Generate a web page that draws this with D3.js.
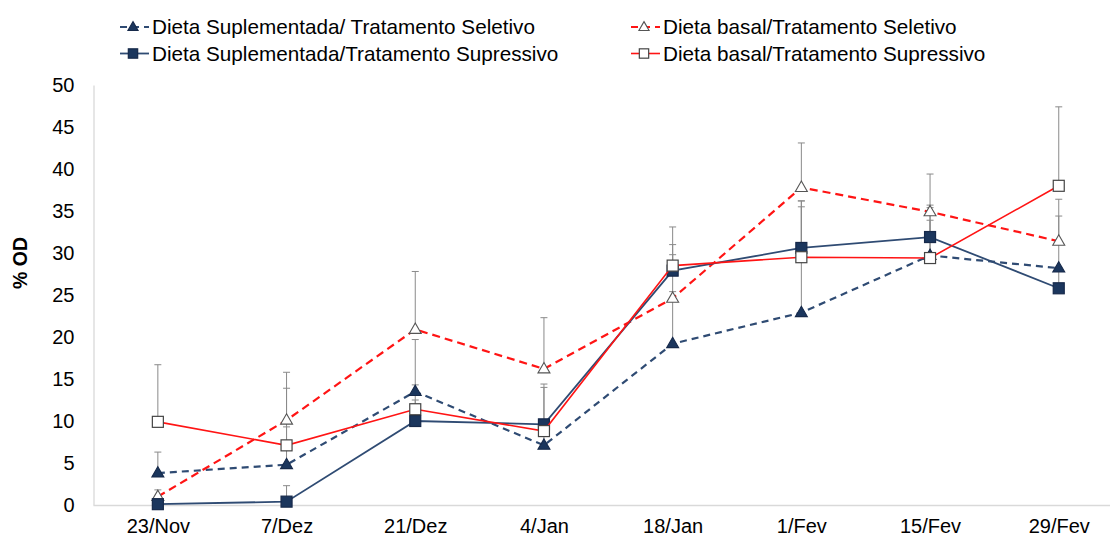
<!DOCTYPE html>
<html>
<head>
<meta charset="utf-8">
<script src="https://cdn.jsdelivr.net/npm/d3@7"></script>
<style>
  html, body { margin: 0; padding: 0; background: #fff; }
  svg { display: block; font-family: "Liberation Sans", Arial, sans-serif; }
</style>
</head>
<body>
<svg id="chart" width="1110" height="541"></svg>
<script>
// Sampling dates (x categories)
const dates = ["23/Nov", "7/Dez", "21/Dez", "4/Jan", "18/Jan", "1/Fev", "15/Fev", "29/Fev"];
const yTicks = [0, 5, 10, 15, 20, 25, 30, 35, 40, 45, 50];

// % OD per treatment, with upper error (plus) values
const suplSeletivo      = [3.8, 4.8, 13.5, 7.1, 19.2, 22.9, 29.7, 28.2];
const suplSeletivoErr   = [2.5, 4.5, 6.2, 2.0, 6.2, 13.3, 5.7, 6.2];
const basalSeletivo     = [1.0, 10.1, 20.9, 16.2, 24.6, 37.8, 34.9, 31.4];
const basalSeletivoErr  = [0.8, 5.7, 6.9, 6.1, 5.2, 5.3, 4.5, 5.0];
const suplSupressivo    = [0.1, 0.4, 10.0, 9.6, 27.9, 30.6, 31.9, 25.8];
const suplSupressivoErr = [0.4, 1.9, 2.5, 4.8, 3.1, 5.6, 3.8, 2.5];
const basalSupressivo   = [9.9, 7.1, 11.4, 8.8, 28.5, 29.5, 29.4, 38.0];
const basalSupressivoErr= [6.8, 6.8, 2.9, 5.2, 4.6, 6.0, 4.5, 9.4];

const NAVY_LINE = "#2F4B73";
const NAVY_FILL = "#1B365D";
const RED = "#FF1414";

const series = [
  { name: "Dieta Suplementada/ Tratamento Seletivo", values: suplSeletivo, err: suplSeletivoErr,
    color: NAVY_LINE, dash: "7,5", shape: "tri", fill: NAVY_FILL, mstroke: "#16294a", lw: 2.2 },
  { name: "Dieta basal/Tratamento Seletivo", values: basalSeletivo, err: basalSeletivoErr,
    color: RED, dash: "8,5", shape: "tri", fill: "#ffffff", mstroke: "#555555", lw: 2.2 },
  { name: "Dieta Suplementada/Tratamento Supressivo", values: suplSupressivo, err: suplSupressivoErr,
    color: NAVY_LINE, dash: null, shape: "sq", fill: NAVY_FILL, mstroke: "#16294a", lw: 1.8 },
  { name: "Dieta basal/Tratamento Supressivo", values: basalSupressivo, err: basalSupressivoErr,
    color: RED, dash: null, shape: "sq", fill: "#ffffff", mstroke: "#444444", lw: 1.6 }
];

const svg = d3.select("#chart");
const left = 93.5, band = 128.7;

const x = d3.scalePoint().domain(dates).range([left, left + band * 8]).padding(0.5);
const y = d3.scaleLinear().domain([0, 50]).range([505, 85]);

// Axes: light grey spines, no tick marks
const axisColor = "#D9D9D9";
const yAxis = svg.append("g").attr("transform", `translate(${left},0)`)
  .call(d3.axisLeft(y).tickValues(yTicks).tickSize(0).tickPadding(19));
yAxis.select(".domain").attr("stroke", axisColor).attr("stroke-width", 1.3);
yAxis.selectAll("text").attr("font-size", 20).attr("fill", "#000")
  .attr("font-family", "Liberation Sans, Arial, sans-serif");

const xAxis = svg.append("g").attr("transform", `translate(0,${y(0)})`)
  .call(d3.axisBottom(x).tickSize(0).tickPadding(14));
xAxis.select(".domain").attr("stroke", axisColor).attr("stroke-width", 1.6)
  .attr("d", `M${left},0.5H${left + band * 8}`);
xAxis.selectAll("text").attr("font-size", 20).attr("fill", "#000")
  .attr("font-family", "Liberation Sans, Arial, sans-serif");

// Y axis title
svg.append("text")
  .attr("transform", `translate(26.5,263) rotate(-90)`)
  .attr("text-anchor", "middle")
  .attr("font-size", 19.5).attr("font-weight", "bold").attr("fill", "#000")
  .text("% OD");

// Error bars (plus direction only)
const capW = 3.5;
const eb = svg.append("g").attr("stroke", "#8a8a8a").attr("stroke-width", 1).attr("fill", "none");
series.forEach(s => {
  s.values.forEach((v, i) => {
    const cx = x(dates[i]);
    const top = y(v + s.err[i]);
    eb.append("line").attr("x1", cx).attr("x2", cx).attr("y1", y(v)).attr("y2", top);
    eb.append("line").attr("x1", cx - capW).attr("x2", cx + capW).attr("y1", top).attr("y2", top);
  });
});

// Marker drawing helper
function marker(g, shape, cx, cy, fill, stroke, scale = 1) {
  if (shape === "sq") {
    const h = 5.5 * scale;
    g.append("rect").attr("x", cx - h).attr("y", cy - h).attr("width", 2 * h).attr("height", 2 * h)
      .attr("fill", fill).attr("stroke", stroke).attr("stroke-width", 1.2);
  } else {
    const sym = d3.symbol().type(d3.symbolTriangle).size(62 * scale * scale);
    g.append("path").attr("d", sym()).attr("transform", `translate(${cx},${cy + 0.5})`)
      .attr("fill", fill).attr("stroke", stroke).attr("stroke-width", 1.1);
  }
}

const line = d3.line().x((d, i) => x(dates[i])).y(d => y(d));

series.forEach(s => {
  const g = svg.append("g");
  g.append("path").datum(s.values).attr("d", line)
    .attr("fill", "none").attr("stroke", s.color).attr("stroke-width", s.lw)
    .attr("stroke-dasharray", s.dash);
  s.values.forEach((v, i) => marker(g, s.shape, x(dates[i]), y(v), s.fill, s.mstroke));
});

// Legend: two columns, two rows
const legendPos = [
  { lx: 120, ly: 27, tx: 152 },
  { lx: 631, ly: 27, tx: 663 },
  { lx: 120, ly: 53.5, tx: 152 },
  { lx: 631, ly: 53.5, tx: 663 }
];
series.forEach((s, k) => {
  const p = legendPos[k];
  const g = svg.append("g");
  const lineEnd = p.tx - 3;
  g.append("line").attr("x1", p.lx).attr("x2", lineEnd).attr("y1", p.ly).attr("y2", p.ly)
    .attr("stroke", s.color).attr("stroke-width", s.lw).attr("stroke-dasharray", s.dash ? "7,5" : null);
  marker(g, s.shape, p.lx + 13, p.ly, s.fill, s.mstroke, 0.85);
  g.append("text").attr("x", p.tx).attr("y", p.ly).attr("dy", "0.36em")
    .attr("font-size", 20.7).attr("fill", "#000").text(s.name);
});
</script>
</body>
</html>
